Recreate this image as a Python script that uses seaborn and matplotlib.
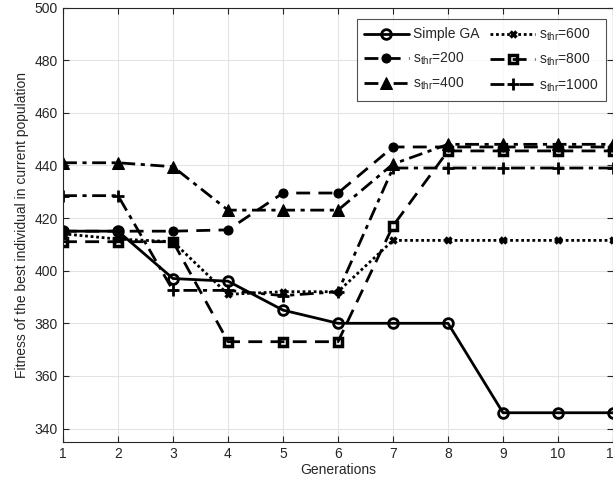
import numpy as np
import pandas as pd
import matplotlib
matplotlib.use('Agg')
import matplotlib.pyplot as plt
import seaborn as sns

# data
generations = [1, 2, 3, 4, 5, 6, 7, 8, 9, 10, 11]
simple_ga = [415, 415, 397, 396, 385, 380, 380, 380, 346, 346, 346]
s_200 = [415, 415, 415, 415.5, 429.5, 429.5, 447, 447, 447, 447, 447]
s_400 = [441, 441, 439.5, 423, 423, 423, 440.5, 448, 448, 448, 448]
s_600 = [414, 412, 411, 391, 392, 392, 411.5, 411.5, 411.5, 411.5, 411.5]
s_800 = [411, 411, 411, 373, 373, 373, 417, 445.5, 445.5, 445.5, 445.5]
s_1000 = [428.5, 428.5, 392.5, 392.5, 390.5, 392, 439, 439, 439, 439, 439]

labels = ['Simple GA', r'$\mathregular{s_{thr}}$=200', r'$\mathregular{s_{thr}}$=400',
          r'$\mathregular{s_{thr}}$=600', r'$\mathregular{s_{thr}}$=800', r'$\mathregular{s_{thr}}$=1000']
series = [simple_ga, s_200, s_400, s_600, s_800, s_1000]
styles = [
    dict(linestyle='-', marker='o', markerfacecolor='none', markersize=7, markeredgewidth=2),
    dict(linestyle=(0, (5, 3)), marker='o', markerfacecolor='black', markersize=6.5),
    dict(linestyle=(0, (5, 2, 1.5, 2)), marker='^', markerfacecolor='black', markersize=8),
    dict(linestyle=(0, (1, 1)), marker='x', markerfacecolor='black', markersize=5, markeredgewidth=2.5),
    dict(linestyle=(0, (5, 3)), marker='s', markerfacecolor='none', markersize=5.5, markeredgewidth=2.5),
    dict(linestyle=(0, (5, 2, 1.5, 2)), marker='+', markerfacecolor='black', markersize=8, markeredgewidth=2),
]

sns.set_style('ticks')
plt.rcParams['font.family'] = ['Liberation Sans', 'DejaVu Sans']
plt.rcParams['mathtext.fontset'] = 'custom'
plt.rcParams['mathtext.rm'] = 'Liberation Sans'

fig = plt.figure(figsize=(6.13, 4.91), dpi=100)
ax = fig.add_axes([63 / 613, 49.3 / 491, 550 / 613, 434.2 / 491])

for vals, lab, st in zip(series, labels, styles):
    df = pd.DataFrame({'Generations': generations, 'Fitness': vals})
    sns.lineplot(data=df, x='Generations', y='Fitness', ax=ax, color='black',
                 linewidth=2, markeredgecolor='black', label=lab, **st)

ax.set_xlim(1, 11)
ax.set_ylim(335, 500)
ax.set_xticks(generations)
ax.set_yticks(np.arange(340, 501, 20))
ax.grid(True, color='#e3e3e3', linewidth=0.8)
ax.tick_params(direction='in', top=True, right=True, labelsize=10, colors='#262626', length=4)
for sp in ax.spines.values():
    sp.set_visible(True)
    sp.set_color('#262626')
    sp.set_linewidth(0.8)
ax.set_xlabel('Generations', fontsize=10, color='#262626', labelpad=2)
ax.set_ylabel('Fitness of the best individual in current population', fontsize=10, color='#262626', labelpad=4)

leg = ax.legend(ncol=2, loc='upper right', bbox_to_anchor=(0.987, 0.974), borderaxespad=0,
                fontsize=10, frameon=True, fancybox=False, edgecolor='#262626', handlelength=3.2,
                columnspacing=0.8, handletextpad=0.3, labelspacing=0.65, borderpad=0.55)
leg.get_frame().set_linewidth(0.8)

fig.savefig('out.png', dpi=100)
